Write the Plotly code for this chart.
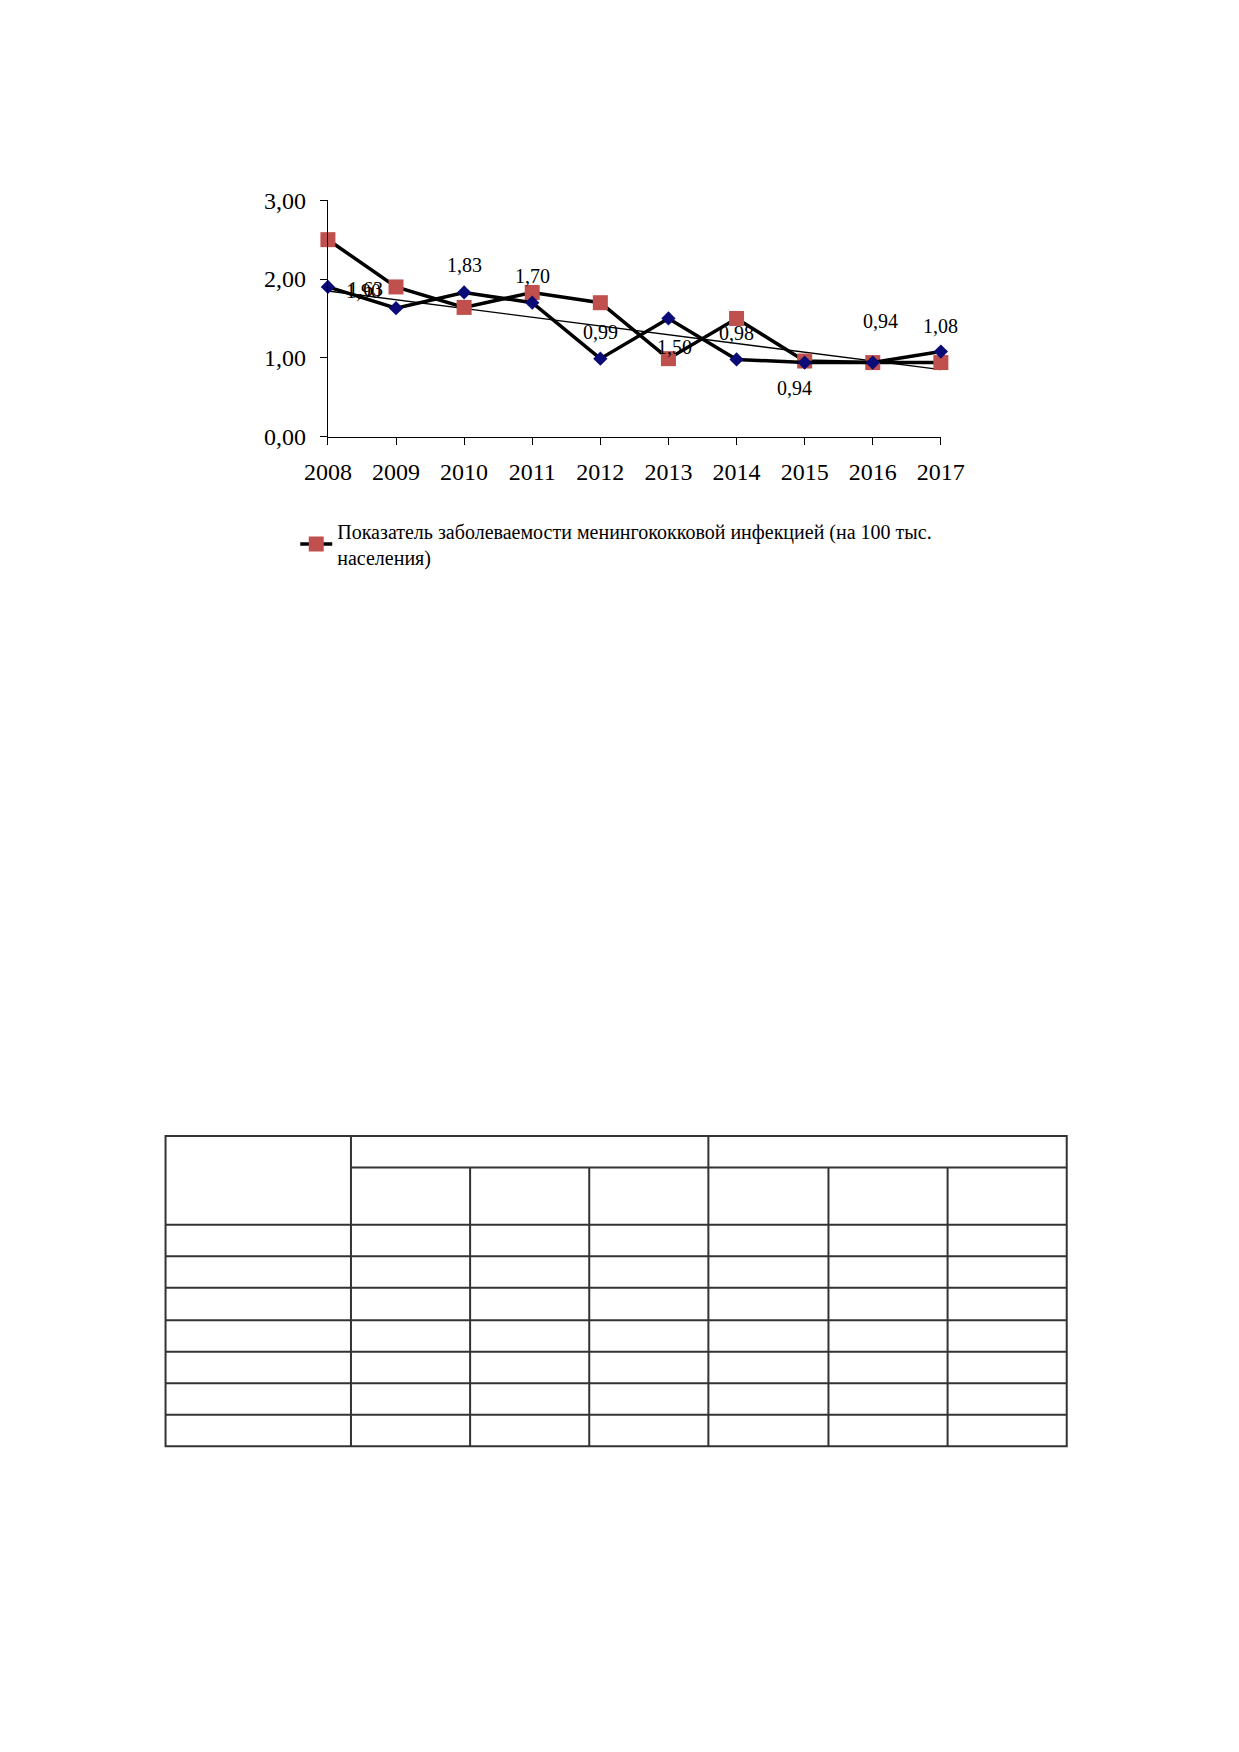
import numpy as np
import plotly.graph_objects as go

# --- data ---
years = [2008, 2009, 2010, 2011, 2012, 2013, 2014, 2015, 2016, 2017]
incidence = [2.50, 1.90, 1.64, 1.83, 1.70, 0.99, 1.50, 0.96, 0.94, 0.94]
series_b = [1.90, 1.63, 1.83, 1.70, 0.99, 1.50, 0.98, 0.94, 0.94, 1.08]
labels_b = ["1,90", "1,63", "1,83", "1,70", "0,99", "1,50", "0,98", "0,94", "0,94", "1,08"]
y_ticks = [0, 1, 2, 3]
legend_name = "Показатель заболеваемости менингококковой инфекцией (на 100 тыс.<br>населения)"

# label offsets in px (placement only), dy > 0 means below the point
label_shift = [(36, 4), (-31, -19), (0, -27), (0, -27), (0, -27),
               (6, 29), (0, -26), (-10, 25), (8, -42), (0, -26)]

# page is 1239x1752; browser body keeps an 8 px margin
PAGE_W, PAGE_H, PAD = 1239, 1752, 8
W, H = PAGE_W - 2 * PAD, PAGE_H - 2 * PAD - 6
FONT = "Liberation Serif, Times New Roman, serif"


def px_x(v):
    return (v - PAD) / W


def px_y(v):
    return 1 - (v - PAD) / H


# linear trend of the diamond series
k, b = np.polyfit(np.arange(len(years)), series_b, 1)
trend = [b + k * i for i in range(len(years))]

fig = go.Figure()

fig.add_trace(go.Scatter(
    x=years, y=trend, mode="lines",
    line=dict(color="black", width=1.3),
    showlegend=False, hoverinfo="skip", cliponaxis=False,
))
fig.add_trace(go.Scatter(
    x=years, y=incidence, mode="lines+markers", name=legend_name,
    line=dict(color="black", width=3.5),
    marker=dict(symbol="square", size=15, color="#C0504D"),
    cliponaxis=False,
))
fig.add_trace(go.Scatter(
    x=years, y=series_b, mode="lines+markers",
    line=dict(color="black", width=3.5),
    marker=dict(symbol="diamond", size=11, color="#0B0B78"),
    showlegend=False, cliponaxis=False,
))

for yr, val, txt, (dx, dy) in zip(years, series_b, labels_b, label_shift):
    fig.add_annotation(
        x=yr, y=val, text=txt, showarrow=False,
        xshift=dx, yshift=-dy,
        font=dict(family=FONT, size=20, color="black"),
    )

# empty table below the chart
col_edges = [147, 340, 464, 588, 712, 837, 961, 1085]
row_edges = [1140, 1172, 1230, 1262, 1294, 1327, 1359, 1391, 1423, 1455]
line = dict(color="#333333", width=2)
shapes = []
shapes.append(dict(type="rect", xref="paper", yref="paper",
                   x0=px_x(col_edges[0]), x1=px_x(col_edges[-1]),
                   y0=px_y(row_edges[-1]), y1=px_y(row_edges[0]), line=line))
for i, ry in enumerate(row_edges[1:-1], start=1):
    x_start = col_edges[1] if i == 1 else col_edges[0]
    shapes.append(dict(type="line", xref="paper", yref="paper",
                       x0=px_x(x_start), x1=px_x(col_edges[-1]),
                       y0=px_y(ry), y1=px_y(ry), line=line))
for j, cx in enumerate(col_edges[1:-1], start=1):
    y_start = row_edges[0] if j in (1, 4) else row_edges[1]
    shapes.append(dict(type="line", xref="paper", yref="paper",
                       x0=px_x(cx), x1=px_x(cx),
                       y0=px_y(row_edges[-1]), y1=px_y(y_start), line=line))

fig.update_layout(
    width=W, height=H,
    margin=dict(l=0, r=0, t=0, b=0),
    plot_bgcolor="white", paper_bgcolor="white",
    separators=", ",
    font=dict(family=FONT, color="black"),
    xaxis=dict(
        domain=[px_x(316), px_x(954)], range=[2008, 2017],
        tickmode="array", tickvals=years, ticktext=[str(y) for y in years],
        showline=True, linecolor="black", linewidth=1,
        ticks="outside", ticklen=7, tickcolor="black",
        showgrid=False, zeroline=False,
        tickfont=dict(family=FONT, size=24),
        ticklabelstandoff=7,
    ),
    yaxis=dict(
        domain=[px_y(430), px_y(190)], range=[0, 3],
        tickvals=y_ticks, tickformat=".2f",
        showline=True, linecolor="black", linewidth=1,
        ticks="outside", ticklen=7, tickcolor="black",
        showgrid=False, zeroline=False,
        tickfont=dict(family=FONT, size=24),
        ticklabelstandoff=9,
    ),
    legend=dict(
        x=px_x(282), y=px_y(506), xanchor="left", yanchor="top",
        font=dict(family=FONT, size=20), bgcolor="rgba(0,0,0,0)",
        itemwidth=32,
    ),
    shapes=shapes,
)

fig.write_html("out.html")
